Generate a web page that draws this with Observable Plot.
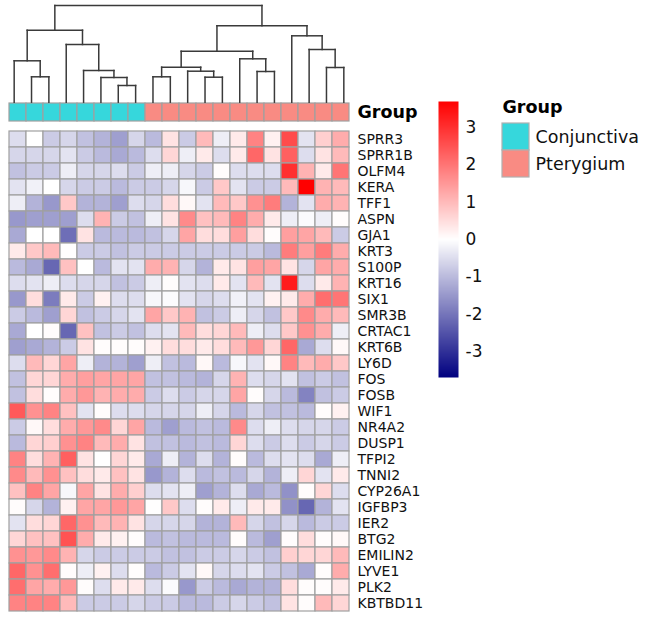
<!DOCTYPE html>
<html><head><meta charset="utf-8">
<script src="https://cdn.jsdelivr.net/npm/d3@7"></script>
<script src="https://cdn.jsdelivr.net/npm/@observablehq/plot@0.6"></script>
<style>
html,body{margin:0;padding:0;background:#fff;}
#chart{position:relative;width:645px;height:621px;overflow:hidden;font-family:"DejaVu Sans",sans-serif;background:#fff;}
#chart svg{position:absolute;left:0;top:0;}
</style></head><body><div id="chart"></div>
<script>
const genes = ["SPRR3","SPRR1B","OLFM4","KERA","TFF1","ASPN","GJA1","KRT3","S100P","KRT16","SIX1","SMR3B","CRTAC1","KRT6B","LY6D","FOS","FOSB","WIF1","NR4A2","DUSP1","TFPI2","TNNI2","CYP26A1","IGFBP3","IER2","BTG2","EMILIN2","LYVE1","PLK2","KBTBD11"];
const samples = ["C1","C2","C3","C4","C5","C6","C7","C8","P1","P2","P3","P4","P5","P6","P7","P8","P9","P10","P11","P12"];
const sampleGroup = ["Conjunctiva","Conjunctiva","Conjunctiva","Conjunctiva","Conjunctiva","Conjunctiva","Conjunctiva","Conjunctiva","Pterygium","Pterygium","Pterygium","Pterygium","Pterygium","Pterygium","Pterygium","Pterygium","Pterygium","Pterygium","Pterygium","Pterygium"];
const groupNames = ["Conjunctiva","Pterygium"];
const groupColors = ["#36d7dc","#f98b83"];
const legendTicks = [-3,-2,-1,0,1,2,3];
const values = [
 [-0.5,0,-0.75,-0.6,-0.9,-1.1,-1.4,-0.6,-1.0,0.4, -0.75,1.0,-0.25,0.3,1.8,0.2,2.6,-0.4,0.7,1.2],
 [-0.6,-0.6,-0.6,-0.4,-0.75,-1.0,-1.25,-1.0,-0.5,0.6, -0.25,0.3,-0.5,0.3,2.2,0.4,2.3,-0.5,0.4,1.0],
 [-0.9,-0.75,-0.75,-0.25,-0.6,-0.6,-0.5,-0.75,-0.25,-0.25, -0.6,-0.75,0.05,-0.5,-0.5,-0.5,3.0,1.1,0.3,2.0],
 [-0.4,-0.2,0,-0.6,-0.75,-0.75,-1.0,-0.75,-0.75,-0.6, -0.12,-0.75,0.8,-0.4,-0.75,-0.75,1.0,3.7,1.1,1.0],
 [-0.25,-1.1,-1.5,0.8,-1.1,-1.1,-1.4,-0.5,-0.6,0.5, 0.1,-0.4,1.0,0.8,1.6,1.9,-1.1,-0.4,1.2,1.1],
 [-1.5,-1.4,-1.4,-1.4,-0.5,1.1,-0.75,-0.9,-0.25,0.4, 1.7,0.9,1.0,1.8,1.2,0.3,-0.25,-0.06,-0.25,0.05],
 [-1.25,0,0,-2.1,0.4,-1.0,-1.0,-1.0,-0.9,-0.6, 1.3,0.5,0.5,1.4,0.5,0.05,1.4,1.3,1.0,-0.75],
 [0.3,0.8,1.0,0.02,-0.75,-0.75,-0.9,-0.75,-0.75,-0.75, -0.75,-0.75,-0.75,-0.75,-0.75,-1.0,1.9,1.4,1.9,1.2],
 [-1.0,-1.25,-2.2,0.9,0,-1.0,-0.4,-0.4,1.2,1.1, -0.6,-1.1,0.3,0.4,1.4,1.3,0.4,-0.6,1.3,1.2],
 [-0.5,-0.4,-0.25,-0.5,-0.6,-0.6,-0.9,-0.75,-0.25,0.05, -0.4,-0.5,0.3,-0.4,1.0,-0.4,3.3,-0.5,0.3,1.1],
 [-1.5,0.5,-1.9,0.3,-0.75,0.2,-0.5,-0.5,-0.12,-0.06, -0.4,-0.6,-0.5,-0.2,-0.4,0.2,0.3,1.2,2.1,2.0],
 [-0.75,-1.0,-1.4,0.6,-0.9,-0.75,-0.6,-0.4,1.3,0.8, 1.1,-0.9,-0.75,-0.25,-0.6,-0.9,0.8,1.7,1.2,1.0],
 [-1.25,0,0.05,-2.2,0.9,-0.9,-0.75,-0.9,-0.5,-0.4, 1.0,0.5,0.6,1.0,-0.25,-0.5,0.8,1.6,1.2,-0.25],
 [-1.4,-1.25,-1.1,-0.75,0.4,0.05,0.05,0.05,0.2,0.5, 0.5,0.3,0.5,1.0,1.5,0.6,2.2,-1.25,-0.5,0.1],
 [-0.5,1.0,0.6,1.3,-0.25,-1.1,-1.1,-1.4,-0.25,-0.9, -1.0,0.1,-1.0,-0.12,-0.4,0.1,1.8,1.0,1.2,0.8],
 [-0.9,0.6,0.6,1.2,1.4,1.3,1.3,1.3,-0.9,-0.9, -1.0,-1.1,-0.6,1.1,-0.5,-0.6,-0.4,-0.9,-0.75,-0.9],
 [-0.9,0.5,0.05,1.2,1.5,1.1,1.2,1.2,-0.75,-0.5, -0.75,-0.6,-0.6,1.3,0.05,-0.6,-1.0,-1.8,-0.9,-0.75],
 [2.4,1.6,1.8,0.9,-0.4,0.05,-0.5,-0.5,-0.6,-0.6, -0.6,-0.25,-0.6,-1.0,-0.6,-0.9,-0.9,-1.0,0.05,0.2],
 [-0.75,0.1,0.5,1.2,1.5,1.7,0.6,1.3,-1.0,-1.4, -1.0,-0.9,-1.0,1.7,-0.5,-0.25,-0.5,-0.6,-0.6,-0.75],
 [-1.0,0.6,0.7,1.6,1.8,1.0,1.2,0.4,-0.9,-0.9, -1.0,-0.9,-1.0,0.6,-0.5,-0.75,-0.5,-0.75,-0.6,-0.75],
 [1.8,0.5,1.1,2.3,0.4,0,0.6,0.3,-1.25,-0.25, -1.1,-0.5,-1.1,0.05,-1.0,-0.5,-0.4,-0.5,-1.25,-0.25],
 [1.7,1.0,1.6,0.9,0.5,0.3,0.9,0.4,-1.5,-1.1, -0.5,-1.0,-0.9,-1.0,-0.6,-1.1,-0.25,0.6,-0.4,0.3],
 [0.9,1.8,1.3,-0.12,1.3,0.4,1.2,0.7,-0.5,-0.4, -0.25,-1.4,-1.1,-0.5,-1.25,-1.0,-1.6,0.05,0.6,-0.5],
 [0.05,-0.6,-1.1,0.2,1.3,1.3,1.5,1.3,0.02,0.8, -0.5,0.05,0.3,-0.25,0.3,0.3,-1.6,-2.2,-1.1,-0.4],
 [-0.4,0.5,0.6,2.2,1.6,1.0,1.1,0.4,-0.6,-0.6, -0.6,-1.1,-1.1,1.0,-0.6,-0.9,-0.6,-1.0,-0.75,-0.75],
 [0.6,0.9,0.9,2.5,1.2,0.3,0.2,0.05,-1.0,-0.9, -1.0,-1.0,-1.0,0.05,-1.0,-1.4,0.05,0.5,0.05,0.1],
 [1.6,1.5,1.7,1.1,-0.6,-0.75,-0.75,-0.75,-0.75,-0.9, -0.9,-0.75,-0.75,-0.6,-0.75,-0.9,0.7,0.6,0.6,1.0],
 [2.2,1.6,2.1,0.05,-0.25,0.2,-0.5,0.03,-1.0,-0.75, -0.4,0.1,-0.6,-0.5,-0.4,-0.75,-0.9,-1.25,0.05,1.2],
 [2.1,1.3,1.2,1.5,0.05,-0.5,0.3,0.3,-0.5,-0.06, -1.5,-0.75,-1.0,-1.25,-1.1,-1.1,0.5,0.05,0.05,0.3],
 [1.8,1.8,1.8,1.0,-0.75,-0.75,-0.75,-0.6,-0.75,-0.75, -1.0,-1.0,-0.75,-0.6,-0.75,-0.9,0.4,0.05,1.0,0.6]
];
// column dendrogram (hclust-style merges: negative = leaf, positive = earlier merge)
const mergeA = [-2,-1,-7,-6,-5,-4,2,-9,-12,-11,8,-15,-14,11,-19,-18,-17,14,7];
const mergeB = [-3,1,-8,3,4,5,6,-10,-13,9,10,-16,12,13,-20,15,16,17,18];
const mergeHeight = [25.4,41.4,16.7,24.7,31.7,57.7,72,25.4,25,31,35,30.7,43.4,51,34.7,52.7,66.4,76.4,96.7];

const W = 645, H = 621;
const FONT = "DejaVu Sans";
const heatLeft = 5, heatRight = 352, heatTop = 127, heatBottom = 615;
const annTop = 103, annBottom = 121;
const dendTop = 5, dendBottom = 101.7;
const barLeft = 438, barRight = 458, barTop = 101, barBottom = 377;
const legX0 = 502, legX1 = 529, legY0 = 122, legY1 = 177;
const transparent = {background: "transparent", overflow: "visible", fontFamily: FONT, color: "#000"};
const colorScale = {type: "linear", domain: [-3.7, 0, 3.7], range: ["navy", "white", "red"], interpolate: "rgb"};
const groupScale = {type: "ordinal", domain: groupNames, range: groupColors};
const chart = document.getElementById("chart");

// heatmap cells
const cells = [];
genes.forEach((g, r) => samples.forEach((s, c) => cells.push({gene: g, sample: s, value: values[r][c]})));
chart.appendChild(Plot.plot({
  width: W, height: H, style: transparent,
  marginLeft: heatLeft, marginRight: W - heatRight, marginTop: heatTop, marginBottom: H - heatBottom,
  x: {domain: samples, padding: 0, axis: null},
  y: {domain: genes, padding: 0, axis: null},
  color: colorScale,
  marks: [
    Plot.cell(cells, {x: "sample", y: "gene", fill: "value", stroke: "#a0a0a0", strokeWidth: 1.2}),
    Plot.axisY({anchor: "right", tickSize: 0, tickPadding: 5, fontSize: 14, label: null, fill: "#111"})
  ]
}));

// group annotation bar
const ann = samples.map((s, i) => ({sample: s, row: "Group", group: sampleGroup[i]}));
chart.appendChild(Plot.plot({
  width: W, height: H, style: transparent,
  marginLeft: heatLeft, marginRight: W - heatRight, marginTop: annTop, marginBottom: H - annBottom,
  x: {domain: samples, padding: 0, axis: null},
  y: {domain: ["Group"], padding: 0, axis: null},
  color: groupScale,
  marks: [
    Plot.cell(ann, {x: "sample", y: "row", fill: "group", stroke: "#a0a0a0", strokeWidth: 1.2}),
    Plot.axisY({anchor: "right", tickSize: 0, tickPadding: 5, fontSize: 17.5, fontWeight: "bold", label: null, fill: "#000"})
  ]
}));

// dendrogram
const nodes = [];
const pos = id => id < 0 ? {x: -id - 0.5, h: 0} : nodes[id - 1];
const segs = [];
mergeA.forEach((a, i) => {
  const pa = pos(a), pb = pos(mergeB[i]), h = mergeHeight[i];
  segs.push({x1: pa.x, y1: h, x2: pb.x, y2: h});
  segs.push({x1: pa.x, y1: pa.h, x2: pa.x, y2: h});
  segs.push({x1: pb.x, y1: pb.h, x2: pb.x, y2: h});
  nodes.push({x: (pa.x + pb.x) / 2, h});
});
chart.appendChild(Plot.plot({
  width: W, height: H, style: transparent,
  marginLeft: heatLeft, marginRight: W - heatRight, marginTop: dendTop, marginBottom: H - dendBottom,
  x: {domain: [0, samples.length], axis: null},
  y: {domain: [0, d3.max(mergeHeight)], axis: null},
  marks: [
    Plot.link(segs, {x1: "x1", y1: "y1", x2: "x2", y2: "y2", stroke: "#3a3a3a", strokeWidth: 1.5, strokeLinecap: "square"})
  ]
}));

// color bar legend
chart.appendChild(Plot.plot({
  width: W, height: H, style: transparent,
  marginLeft: barLeft, marginRight: W - barRight, marginTop: barTop, marginBottom: H - barBottom,
  x: {domain: [0, 1], axis: null},
  y: {domain: [-3.7, 3.7], axis: null},
  color: colorScale,
  marks: [
    Plot.raster({x1: 0, x2: 1, y1: -3.7, y2: 3.7, width: 1, height: 276, fill: (x, y) => y, imageRendering: "auto"}),
    Plot.axisY({anchor: "right", ticks: legendTicks, tickSize: 0, tickPadding: 7, fontSize: 17, tickFormat: d => String(d), label: null, fill: "#111"})
  ]
}));

// group legend
chart.appendChild(Plot.plot({
  width: W, height: H, style: transparent,
  marginLeft: legX0, marginRight: W - legX1, marginTop: legY0, marginBottom: H - legY1,
  x: {domain: ["swatch"], padding: 0, axis: null},
  y: {domain: groupNames, padding: 0, axis: null},
  color: groupScale,
  marks: [
    Plot.cell(groupNames, {x: () => "swatch", y: d => d, fill: d => d, stroke: "#b0b0b0", strokeWidth: 1.2}),
    Plot.axisY({anchor: "right", tickSize: 0, tickPadding: 6, fontSize: 17.5, label: null, fill: "#111"}),
    Plot.text(["Group"], {frameAnchor: "top-left", text: d => d, textAnchor: "start", lineAnchor: "bottom", dy: -10, fontSize: 17.5, fontWeight: "bold", fill: "#000"})
  ]
}));
</script></body></html>
